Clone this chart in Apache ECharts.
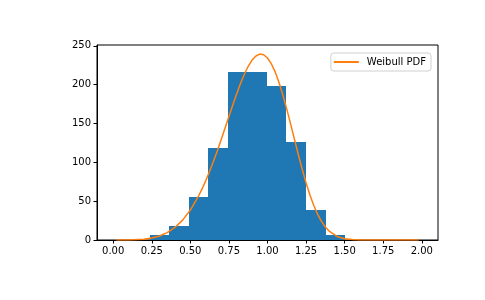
<!DOCTYPE html>
<html>
<head>
<meta charset="utf-8">
<script src="https://cdn.jsdelivr.net/npm/echarts@6/dist/echarts.min.js"></script>
<style>
html, body { margin: 0; padding: 0; background: #fff; }
#main { width: 485px; height: 300px; }
</style>
</head>
<body>
<div id="main"></div>
<script>
// histogram bin edges and counts
var binEdges = [0.237, 0.364, 0.490, 0.617, 0.743, 0.870, 0.997, 1.123, 1.250, 1.376, 1.503];
var binCounts = [7, 18, 55, 118, 216, 216, 198, 126, 39, 6];

// Weibull PDF curve (scaled)
var curveX = [0.02, 0.1, 0.2, 0.25, 0.3, 0.35, 0.4, 0.45, 0.5, 0.55, 0.575, 0.6, 0.625, 0.65, 0.675, 0.7, 0.725,
              0.75, 0.775, 0.8, 0.825, 0.85, 0.875, 0.9, 0.925, 0.95, 0.975, 1.0, 1.025, 1.05, 1.075, 1.1, 1.125,
              1.15, 1.175, 1.2, 1.225, 1.25, 1.275, 1.3, 1.325, 1.35, 1.375, 1.4, 1.45, 1.5, 1.55, 1.6, 1.7, 1.98];
var curveY = [0, 0.1, 1.0, 2.5, 5.1, 9.5, 16.1, 25.6, 38.6, 55.4, 65.4, 76.4, 88.4, 101.3, 115.0, 129.3, 144.1,
              159.0, 173.7, 188.0, 201.4, 213.4, 223.6, 231.6, 236.9, 239.3, 238.5, 234.3, 226.8, 216.1, 202.5, 186.3, 168.4,
              149.1, 129.3, 109.8, 91.0, 73.5, 57.9, 44.4, 33.1, 23.9, 16.7, 11.3, 4.6, 1.6, 0.5, 0.1, 0, 0];

var xTicks = [0, 0.25, 0.5, 0.75, 1.0, 1.25, 1.5, 1.75, 2.0];
var yTicks = [0, 50, 100, 150, 200, 250];

var font = 'DejaVu Sans';

var bars = [];
for (var i = 0; i < binCounts.length; i++) {
    bars.push([binEdges[i], binEdges[i + 1], binCounts[i]]);
}
var curve = [];
for (var j = 0; j < curveX.length; j++) {
    curve.push([curveX[j], curveY[j]]);
}

var myChart = echarts.init(document.getElementById('main'));
var option = {
    animation: false,
    backgroundColor: '#fff',
    grid: {
        left: 97, top: 45, right: 47, bottom: 60,
        show: true, borderColor: '#000', borderWidth: 1,
        containLabel: false
    },
    legend: {
        right: 54, top: 53,
        padding: [4, 5, 4, 3],
        borderColor: '#d0d0d0', borderWidth: 1, borderRadius: 3,
        itemWidth: 25, itemHeight: 2, itemGap: 6,
        textStyle: { fontFamily: font, fontSize: 10, color: '#000', padding: [0, 0, 0, 3] },
        data: [{ name: 'Weibull PDF', icon: 'rect' }]
    },
    xAxis: {
        type: 'value',
        min: -0.105, max: 2.105,
        splitLine: { show: false },
        axisLine: { onZero: false, lineStyle: { color: '#000' } },
        axisTick: { customValues: xTicks, length: 3.5, lineStyle: { color: '#000' } },
        axisLabel: {
            customValues: xTicks,
            fontFamily: font, fontSize: 10, color: '#000', margin: 6,
            formatter: function (v) { return v.toFixed(2); }
        }
    },
    yAxis: {
        type: 'value',
        min: 0, max: 251,
        splitLine: { show: false },
        axisLine: { show: true, onZero: false, lineStyle: { color: '#000' } },
        axisTick: { customValues: yTicks, length: 3.5, lineStyle: { color: '#000' } },
        axisLabel: { customValues: yTicks, fontFamily: font, fontSize: 10, color: '#000', margin: 6 }
    },
    series: [
        {
            type: 'custom',
            name: 'hist',
            data: bars,
            encode: { x: [0, 1], y: 2 },
            renderItem: function (params, api) {
                var p0 = api.coord([api.value(0), 0]);
                var p1 = api.coord([api.value(1), api.value(2)]);
                var x0 = Math.round(p0[0]), x1 = Math.round(p1[0]);
                var y0 = Math.round(p0[1]), y1 = Math.round(p1[1]);
                return {
                    type: 'rect',
                    shape: { x: x0, y: y1, width: x1 - x0, height: y0 - y1 },
                    style: { fill: '#1f77b4' }
                };
            },
            z: 1
        },
        {
            type: 'line',
            name: 'Weibull PDF',
            data: curve,
            showSymbol: false,
            symbol: 'none',
            smooth: false,
            lineStyle: { color: '#ff7f0e', width: 1.5 },
            itemStyle: { color: '#ff7f0e' },
            z: 3
        }
    ]
};
myChart.setOption(option);
</script>
</body>
</html>
